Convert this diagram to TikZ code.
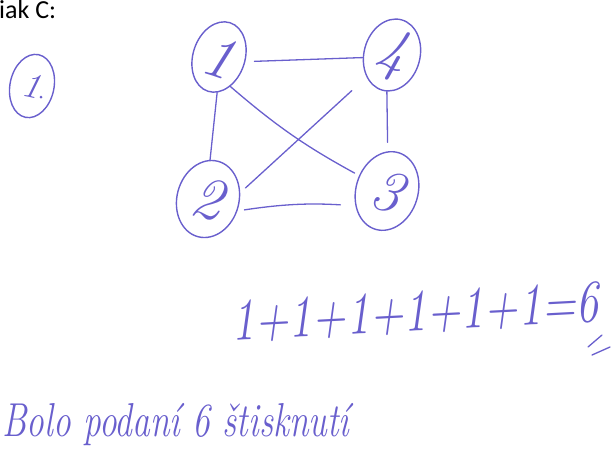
\documentclass[tikz,border=0pt]{standalone}
\usepackage{fontspec}
\newfontfamily\calib{Carlito}
\usetikzlibrary{shapes.geometric}
\definecolor{ink}{RGB}{105,95,205}
\begin{document}
\begin{tikzpicture}[x=1pt,y=1pt,
  vert/.style={ellipse, draw=ink, line width=1.4pt, inner sep=0pt, text=ink,
    font=\fontsize{60}{60}\selectfont\itshape},
  edge/.style={draw=ink, line width=1.3pt, line cap=round},
  hand/.style={text=ink, inner sep=0pt}]
\useasboundingbox (0,0) rectangle (615,-459);
% header
\node[anchor=base west, inner sep=0pt, font=\calib\fontsize{26}{26}\selectfont] (hdr) at (-1,-18) {iak C:};
% circled one
\node[vert, minimum width=44, minimum height=64, rotate=-12,
  font=\fontsize{36}{36}\selectfont\itshape] (c1) at (32,-86) {1};
\fill[ink] (41,-97) circle (1.5);
% graph vertices
\node[vert, minimum width=52, minimum height=72, rotate=-18] (n1) at (219,-57) {1};
\node[vert, minimum width=56, minimum height=72, rotate=-15] (n4) at (392,-55) {4};
\node[vert, minimum width=62, minimum height=78, rotate=-15] (n2) at (208,-199) {2};
\node[vert, minimum width=62, minimum height=80, rotate=-17] (n3) at (387,-191) {3};
% edges
\draw[edge, shorten <=9pt] (n1.8) -- (n4.200);
\draw[edge] (n1.285) -- (n2.102);
\draw[edge, shorten >=5pt] (n1.-51) to[bend right=6] (n3.168);
\draw[edge, shorten <=20pt, shorten >=7pt] (n4.236) -- (n2.26);
\draw[edge, shorten >=9pt] (n4.277) -- (n3.106);
\draw[edge, shorten <=7pt, shorten >=15pt] (n2.-7) to[bend left=6] (n3.222);
% sum
\node[hand, font=\fontsize{46}{46}\selectfont\itshape, rotate=3, transform shape, yscale=1.3] (eq) at (415,-313) {1+1+1+1+1+1=6};
\draw[edge] (588,-347) -- (602,-335);
\draw[edge] (592,-355) -- (610,-347);
% answer
\node[hand, font=\fontsize{34}{34}\selectfont\itshape, anchor=base west, transform shape, yscale=1.4, xscale=1.04] (note) at (2,-436) {Bolo podaní 6 štisknutí};
\end{tikzpicture}
\end{document}
